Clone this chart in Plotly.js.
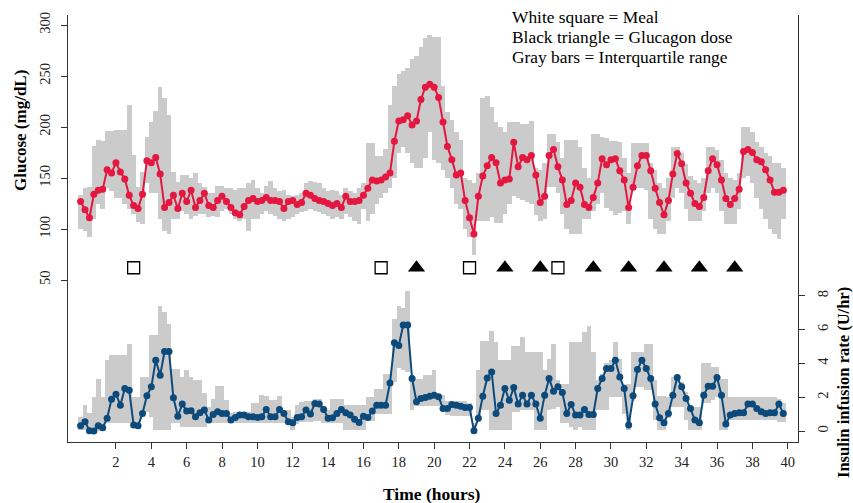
<!DOCTYPE html>
<html>
<head>
<meta charset="utf-8">
<script src="https://cdn.plot.ly/plotly-3.0.1.min.js"></script>
<style>
html,body{margin:0;padding:0;background:#fff;}
#chart{width:853px;height:503px;}
</style>
</head>
<body>
<div id="chart"></div>
<script>
// sampling grid: every 15 minutes, 0 to 39.75 h
var hours = Array.from({length:160}, function(_, i){ return i * 0.25; });

var glucose = [
127,119,111,134,138,139,158,155,165,156,149,133,123,120,134,167,165,170,154,121,126,133,120,135,127,138,121,128,135,123,121,128,132,127,121,116,114,122,128,130,
127,128,131,128,128,127,120,127,128,124,126,135,133,130,128,127,125,123,125,121,132,127,127,128,133,140,148,147,148,151,155,186,206,207,211,202,206,227,239,242,
239,229,205,181,168,153,155,128,111,95,132,152,162,170,165,145,148,149,185,161,170,168,172,153,126,132,172,178,161,148,124,128,145,141,124,121,131,145,169,163,
168,169,157,148,121,141,162,172,172,157,140,126,114,128,154,174,164,145,135,125,122,131,157,169,163,148,130,124,130,139,176,178,175,168,166,158,148,136,136,138
];
var glucoseQ3 = [
133,140,141,181,187,186,196,196,197,197,197,222,173,141,156,190,205,216,239,228,212,156,146,153,153,150,155,145,141,135,135,142,142,140,140,138,140,140,145,148,
140,135,142,147,140,137,138,133,132,133,135,145,147,146,145,140,137,138,137,133,140,137,135,140,145,184,184,172,172,178,222,240,252,255,258,267,270,278,287,290,
288,288,240,215,207,195,187,150,148,145,155,228,230,220,205,200,195,205,205,205,203,203,206,160,158,165,193,193,185,170,187,187,187,180,160,150,193,193,190,189,
186,186,185,170,155,184,184,184,184,165,158,145,140,150,180,180,175,164,152,148,145,150,180,180,177,168,155,150,148,155,200,200,195,185,180,175,172,165,165,160
];
var glucoseQ1 = [
100,98,92,110,125,120,140,137,130,130,125,120,115,107,105,145,135,135,110,98,95,110,110,118,115,110,113,115,115,112,113,112,118,120,115,110,108,110,98,110,
110,115,118,115,113,110,108,110,112,115,117,118,120,118,117,115,113,110,112,110,115,112,108,105,120,108,115,125,130,135,140,150,175,180,175,165,160,160,170,195,
168,165,158,150,140,125,120,100,92,75,108,108,108,112,106,106,115,125,132,130,128,126,125,114,108,110,141,141,135,115,100,95,95,95,110,110,118,125,135,121,
118,114,116,118,105,138,140,140,138,110,100,95,95,108,130,140,135,120,108,108,108,118,135,140,135,118,105,105,105,120,150,152,145,130,120,110,100,95,90,110
];
var insulin = [
0.31,0.55,0.02,0,0.31,0.2,0.75,1.88,2.18,1.53,2.51,2.41,0.35,0.31,1.04,2.08,2.61,4.18,3.29,4.7,4.7,1.96,0.88,1.59,1.18,1.2,0.84,1.08,1.24,0.65,0.98,1.14,1.04,1.04,0.65,0.8,0.94,0.94,0.84,0.84,
0.8,0.84,1.27,0.84,0.84,1.27,1.04,0.55,0.49,0.8,0.84,1.24,1.0,1.63,1.59,1.27,0.75,0.78,1.04,1.27,1.08,0.94,0.69,0.51,0.88,0.8,1.18,1.53,1.53,1.53,2.84,5.22,5.06,6.27,6.27,3.1,1.73,1.92,1.98,2.06,
2.12,2.02,1.33,1.33,1.57,1.53,1.47,1.39,1.39,0.02,0.75,2.06,3.14,3.49,1.04,1.53,2.51,1.82,2.57,1.59,2.12,1.59,2.12,1.59,0.75,2.12,3.1,2.35,2.61,2.27,1.04,1.57,0.94,0.94,1.27,0.98,0.98,2.51,3.1,3.69,
3.69,4.18,3.2,2.51,0.35,2.08,3.63,4.18,3.69,3.1,1.59,0.78,0.49,1.04,2.12,3.16,2.61,1.92,1.33,0.65,0.49,2.12,2.65,2.65,3.16,2.12,0.41,0.94,1.04,1.08,1.08,1.59,1.59,1.33,1.14,1.04,1.08,1.08,1.59,1.04
];
var insulinQ3 = [
0.85,1.53,1.04,2.0,3.1,2.0,4.2,4.5,4.5,4.5,4.5,5.16,2.0,2.0,3.2,3.2,5.65,5.65,7.41,7.02,6.33,3.69,3.69,3.2,3.59,3.2,3.0,3.0,2.22,1.43,1.92,2.65,2.65,1.82,1.04,1.1,1.1,1.1,1.1,1.63,
1.63,2.12,2.06,1.82,1.82,2.06,1.24,1.24,0.85,1.53,1.7,1.8,1.8,1.92,1.92,1.5,1.25,1.92,1.92,1.92,1.53,1.53,1.53,1.53,1.53,2.0,2.0,2.5,2.5,3.4,3.4,6.6,7.4,7.3,8.3,3.3,3.1,3.1,3.3,3.3,
3.63,2.12,2.12,1.8,1.8,1.8,1.8,1.8,1.63,0.5,3.6,5.35,5.35,5.94,5.25,4.18,4.18,4.18,5.0,5.0,5.55,4.67,4.67,4.67,4.67,3.59,4.28,5.16,3.0,2.8,2.8,5.25,5.25,5.25,5.84,6.2,4.67,3.0,3.4,4.0,
4.2,5.25,4.28,2.8,2.8,4.67,4.67,4.67,5.16,5.16,3.0,2.1,2.1,2.0,3.2,3.2,2.9,2.3,1.43,1.43,1.43,4.0,4.0,3.8,3.8,3.1,3.1,2.0,2.0,2.0,2.0,2.0,2.0,2.0,2.0,2.0,2.0,2.0,1.9,1.63
];
var insulinQ1 = [
0.06,0.06,0,0,0,0,0.45,0.45,0.45,0.45,0.45,0.45,0.25,0.25,0.9,1.1,0.8,0.06,0.06,0.06,0.06,0.45,0.45,0.25,0.25,0.25,0.25,0.25,0.25,0.45,0.45,0.45,0.45,0.5,0.5,0.5,0.5,0.5,0.5,0.5,
0.5,0.5,0.5,0.5,0.5,0.5,0.5,0.4,0.06,0.4,0.55,0.55,0.55,0.6,0.6,0.45,0.45,0.5,0.5,0.5,0.06,0.06,0.06,0.06,0.06,0.6,0.6,1.0,1.0,1.0,1.0,2.9,3.7,3.6,3.5,1.25,1.5,1.5,1.5,1.5,
1.5,1.5,1.24,0.92,0.9,0.9,0.9,0.9,0.9,0,0.65,1.24,1.24,0.06,0.06,0.06,0.06,0.06,1.14,1.14,1.24,1.24,1.24,0.06,0.06,0.06,1.24,1.33,1.43,0.45,0.45,0.25,0.06,0.25,0.06,0.06,0.06,1.24,1.24,1.24,
2.0,2.0,2.0,1.0,0.06,1.8,2.6,2.6,2.45,2.45,0.65,0.06,0.06,0.75,1.43,1.43,1.43,0.65,0.06,0.06,0.06,1.63,1.63,1.82,2.0,0.06,0.06,0.65,0.65,0.65,0.65,0.65,0.65,0.65,0.65,0.65,0.65,0.65,0.55,0.55
];
var mealTimes = [3, 17, 22, 27];
var glucagonTimes = [19, 24, 26, 29, 31, 33, 35, 37];
var markerLevel = 62;
var xTicks = [2,4,6,8,10,12,14,16,18,20,22,24,26,28,30,32,34,36,38,40];
var glucoseTicks = [50,100,150,200,250,300];
var insulinTicks = [0,2,4,6,8];
var legendLines = ["White square = Meal", "Black triangle = Glucagon dose", "Gray bars = Interquartile range"];

var FONT = "Liberation Serif, Times New Roman, serif";
var GRAY = "#cbcbcb";
var RED = "#e3173f";
var BLUE = "#0c4a7b";

function diff(a, b){ return a.map(function(v, i){ return v - b[i]; }); }

var traces = [
  {type:"bar", x:hours, y:diff(glucoseQ3, glucoseQ1), base:glucoseQ1, width:0.262,
   marker:{color:GRAY, line:{width:0}}, xaxis:"x", yaxis:"y", hoverinfo:"skip"},
  {type:"scatter", mode:"lines+markers", x:hours, y:glucose,
   line:{color:RED, width:2}, marker:{color:RED, size:7}, xaxis:"x", yaxis:"y"},
  {type:"scatter", mode:"markers", x:mealTimes, y:mealTimes.map(function(){return markerLevel;}),
   marker:{symbol:"square", size:12, color:"#ffffff", line:{color:"#000", width:1.3}}, xaxis:"x", yaxis:"y"},
  {type:"scatter", mode:"markers", x:glucagonTimes, y:glucagonTimes.map(function(){return markerLevel;}),
   marker:{symbol:"triangle-up", size:15, color:"#000", line:{width:0}}, xaxis:"x", yaxis:"y"},
  {type:"bar", x:hours, y:diff(insulinQ3, insulinQ1), base:insulinQ1, width:0.262,
   marker:{color:GRAY, line:{width:0}}, xaxis:"x", yaxis:"y2", hoverinfo:"skip"},
  {type:"scatter", mode:"lines+markers", x:hours, y:insulin,
   line:{color:BLUE, width:2}, marker:{color:BLUE, size:7}, xaxis:"x", yaxis:"y2"}
];

function py(p){ return (442 - p) / 427; }
function px(p){ return (p - 68) / 730; }

var annotations = [
  {text:"<b>Glucose (mg/dL)</b>", textangle:-90, xref:"paper", yref:"paper", x:px(20), y:py(131),
   xanchor:"center", yanchor:"middle", showarrow:false, font:{family:FONT, size:17, color:"#000"}},
  {text:"<b>Insulin infusion rate (U/hr)</b>", textangle:-90, xref:"paper", yref:"paper", x:px(843), y:py(383),
   xanchor:"center", yanchor:"middle", showarrow:false, font:{family:FONT, size:16.5, color:"#000"}},
  {text:"<b>Time (hours)</b>", xref:"paper", yref:"paper", x:px(432), y:py(494),
   xanchor:"center", yanchor:"middle", showarrow:false, font:{family:FONT, size:17.5, color:"#000"}}
];
var legendY = [17, 37, 57];
legendLines.forEach(function(t, i){
  annotations.push({text:t, xref:"paper", yref:"paper", x:px(510), y:py(legendY[i]),
    xanchor:"left", yanchor:"middle", showarrow:false, font:{family:FONT, size:17.4, color:"#000"}});
});

var layout = {
  width:853, height:503,
  margin:{l:68, r:55, t:15, b:61, pad:0},
  paper_bgcolor:"#fff", plot_bgcolor:"#fff",
  showlegend:false, barmode:"overlay", bargap:0,
  font:{family:FONT, size:14, color:"#222"},
  xaxis:{range:[-0.713, 40.58], tickvals:xTicks, ticktext:xTicks.map(String),
    ticks:"outside", ticklen:6, tickwidth:1, tickcolor:"#333",
    showline:true, linecolor:"#333", linewidth:1.2, showgrid:false, zeroline:false,
    tickfont:{family:FONT, size:14.5, color:"#222"}},
  yaxis:{range:[-108.8, 309.8], tickvals:glucoseTicks, ticktext:glucoseTicks.map(String),
    ticks:"outside", ticklen:6, tickwidth:1, tickcolor:"#333", tickangle:-90, ticklabelstandoff:5,
    showline:true, linecolor:"#333", linewidth:1.2, showgrid:false, zeroline:false,
    tickfont:{family:FONT, size:14.5, color:"#222"}},
  yaxis2:{range:[-0.65, 24.6], overlaying:"y", side:"right", tickvals:insulinTicks, ticktext:insulinTicks.map(String),
    ticks:"outside", ticklen:6, tickwidth:1, tickcolor:"#333", tickangle:-90, ticklabelstandoff:5,
    showline:true, linecolor:"#333", linewidth:1.2, showgrid:false, zeroline:false,
    tickfont:{family:FONT, size:14.5, color:"#222"}},
  annotations:annotations
};

Plotly.newPlot("chart", traces, layout, {staticPlot:true, displayModeBar:false});
</script>
</body>
</html>
